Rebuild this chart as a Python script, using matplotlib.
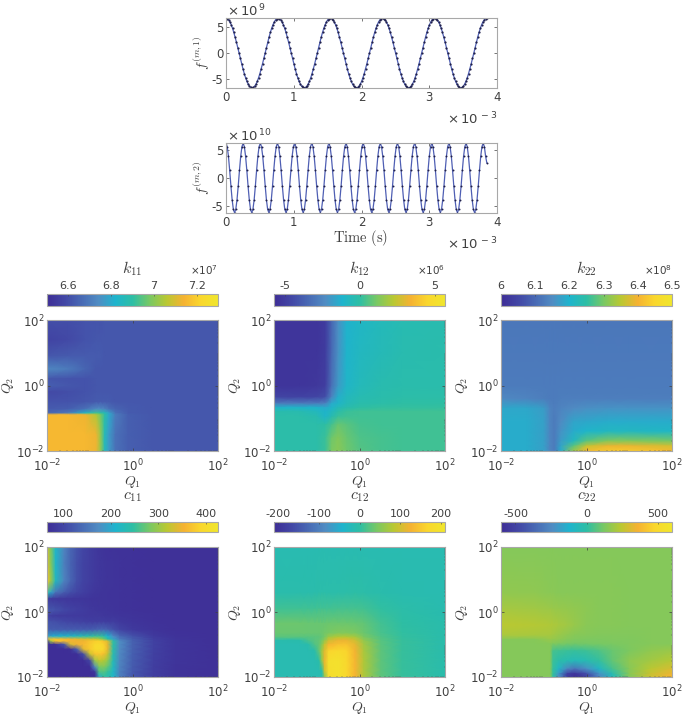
import numpy as np
import matplotlib
matplotlib.use('Agg')
import matplotlib.pyplot as plt
from matplotlib.colors import LinearSegmentedColormap, Normalize
from matplotlib.cm import ScalarMappable

plt.rcParams['font.family'] = 'DejaVu Sans'
plt.rcParams['mathtext.fontset'] = 'dejavusans'

W, H = 685, 716
GREY = '#404040'
EDGE = '#a8a8a8'

# top traces, units 1e9 and 1e10
f1_t_end = 3.85e-3
f1 = [
    6.70, 6.62, 6.37, 5.97, 5.42, 4.74, 3.94, 3.04, 2.07, 1.05, 0.00, -1.05, -2.07, -3.04, -3.94, -4.74, -5.42, -5.97, -6.37, -6.62,
    -6.70, -6.62, -6.37, -5.97, -5.42, -4.74, -3.94, -3.04, -2.07, -1.05, 0.00, 1.05, 2.07, 3.04, 3.94, 4.74, 5.42, 5.97, 6.37, 6.62,
    6.70, 6.62, 6.37, 5.97, 5.42, 4.74, 3.94, 3.04, 2.07, 1.05, 0.00, -1.05, -2.07, -3.04, -3.94, -4.74, -5.42, -5.97, -6.37, -6.62,
    -6.70, -6.62, -6.37, -5.97, -5.42, -4.74, -3.94, -3.04, -2.07, -1.05, 0.00, 1.05, 2.07, 3.04, 3.94, 4.74, 5.42, 5.97, 6.37, 6.62,
    6.70, 6.62, 6.37, 5.97, 5.42, 4.74, 3.94, 3.04, 2.07, 1.05, 0.00, -1.05, -2.07, -3.04, -3.94, -4.74, -5.42, -5.97, -6.37, -6.62,
    -6.70, -6.62, -6.37, -5.97, -5.42, -4.74, -3.94, -3.04, -2.07, -1.05, 0.00, 1.05, 2.07, 3.04, 3.94, 4.74, 5.42, 5.97, 6.37, 6.62,
    6.70, 6.62, 6.37, 5.97, 5.42, 4.74, 3.94, 3.04, 2.07, 1.05, 0.00, -1.05, -2.07, -3.04, -3.94, -4.74, -5.42, -5.97, -6.37, -6.62,
    -6.70, -6.62, -6.37, -5.97, -5.42, -4.74, -3.94, -3.04, -2.07, -1.05, 0.00, 1.05, 2.07, 3.04, 3.94, 4.74, 5.42, 5.97, 6.37, 6.62,
    6.70, 6.62, 6.37, 5.97, 5.42, 4.74, 3.94, 3.04, 2.07, 1.05, 0.00, -1.05, -2.07, -3.04, -3.94, -4.74, -5.42, -5.97, -6.37, -6.62,
    -6.70, -6.62, -6.37, -5.97, -5.42, -4.74, -3.94, -3.04, -2.07, -1.05, 0.00, 1.05, 2.07, 3.04, 3.94, 4.74, 5.42, 5.97, 6.37, 6.62,
    6.70,
]
f2_t_end = 3.85e-3
f2 = [
    6.10, 5.50, 3.80, 1.36, -1.36, -3.80, -5.50, -6.10, -5.50, -3.80, -1.36, 1.36, 3.80, 5.50,
    6.10, 5.50, 3.80, 1.36, -1.36, -3.80, -5.50, -6.10, -5.50, -3.80, -1.36, 1.36, 3.80, 5.50,
    6.10, 5.50, 3.80, 1.36, -1.36, -3.80, -5.50, -6.10, -5.50, -3.80, -1.36, 1.36, 3.80, 5.50,
    6.10, 5.50, 3.80, 1.36, -1.36, -3.80, -5.50, -6.10, -5.50, -3.80, -1.36, 1.36, 3.80, 5.50,
    6.10, 5.50, 3.80, 1.36, -1.36, -3.80, -5.50, -6.10, -5.50, -3.80, -1.36, 1.36, 3.80, 5.50,
    6.10, 5.50, 3.80, 1.36, -1.36, -3.80, -5.50, -6.10, -5.50, -3.80, -1.36, 1.36, 3.80, 5.50,
    6.10, 5.50, 3.80, 1.36, -1.36, -3.80, -5.50, -6.10, -5.50, -3.80, -1.36, 1.36, 3.80, 5.50,
    6.10, 5.50, 3.80, 1.36, -1.36, -3.80, -5.50, -6.10, -5.50, -3.80, -1.36, 1.36, 3.80, 5.50,
    6.10, 5.50, 3.80, 1.36, -1.36, -3.80, -5.50, -6.10, -5.50, -3.80, -1.36, 1.36, 3.80, 5.50,
    6.10, 5.50, 3.80, 1.36, -1.36, -3.80, -5.50, -6.10, -5.50, -3.80, -1.36, 1.36, 3.80, 5.50,
    6.10, 5.50, 3.80, 1.36, -1.36, -3.80, -5.50, -6.10, -5.50, -3.80, -1.36, 1.36, 3.80, 5.50,
    6.10, 5.50, 3.80, 1.36, -1.36, -3.80, -5.50, -6.10, -5.50, -3.80, -1.36, 1.36, 3.80, 5.50,
    6.10, 5.50, 3.80, 1.36, -1.36, -3.80, -5.50, -6.10, -5.50, -3.80, -1.36, 1.36, 3.80, 5.50,
    6.10, 5.50, 3.80, 1.36, -1.36, -3.80, -5.50, -6.10, -5.50, -3.80, -1.36, 1.36, 3.80, 5.50,
    6.10, 5.50, 3.80, 1.36, -1.36, -3.80, -5.50, -6.10, -5.50, -3.80, -1.36, 1.36, 3.80, 5.50,
    6.10, 5.50, 3.80, 2.65,
]

# heat maps: exponents of Q1 (columns) and Q2 (rows, top of the plot first)
k11_q1 = [-2, -1.5, -1.1, -0.85, -0.75, -0.65, -0.55, -0.4, -0.1, 0.5, 2]
k11_q2 = [2, 1.4, 0.9, 0.5, 0.2, 0, -0.2, -0.5, -0.72, -0.84, -0.9, -1.5, -2]
k11 = [
    [6.60, 6.60, 6.61, 6.61, 6.61, 6.62, 6.62, 6.62, 6.62, 6.62, 6.62],
    [6.57, 6.59, 6.61, 6.62, 6.62, 6.62, 6.62, 6.62, 6.62, 6.62, 6.62],
    [6.62, 6.63, 6.63, 6.63, 6.63, 6.62, 6.62, 6.62, 6.62, 6.62, 6.62],
    [6.73, 6.70, 6.65, 6.62, 6.62, 6.62, 6.62, 6.62, 6.62, 6.62, 6.62],
    [6.62, 6.61, 6.61, 6.62, 6.62, 6.62, 6.62, 6.62, 6.62, 6.62, 6.62],
    [6.64, 6.62, 6.61, 6.62, 6.62, 6.62, 6.62, 6.62, 6.62, 6.62, 6.62],
    [6.59, 6.60, 6.61, 6.62, 6.62, 6.62, 6.62, 6.62, 6.62, 6.62, 6.62],
    [6.61, 6.61, 6.62, 6.63, 6.63, 6.63, 6.63, 6.62, 6.62, 6.62, 6.62],
    [6.63, 6.64, 6.68, 6.74, 6.74, 6.72, 6.68, 6.65, 6.63, 6.62, 6.62],
    [6.65, 6.70, 6.84, 6.92, 6.90, 6.86, 6.78, 6.68, 6.63, 6.62, 6.62],
    [7.15, 7.15, 7.13, 7.05, 6.98, 6.90, 6.80, 6.70, 6.64, 6.62, 6.62],
    [7.15, 7.15, 7.15, 7.13, 7.02, 6.86, 6.77, 6.68, 6.64, 6.62, 6.62],
    [7.15, 7.15, 7.15, 7.13, 7.02, 6.86, 6.77, 6.68, 6.64, 6.62, 6.62],
]

k12_q1 = [-2, -1.4, -1.0, -0.8, -0.65, -0.5, -0.3, 0, 0.5, 1, 2]
k12_q2 = [2, 1, 0, -0.35, -0.55, -0.68, -0.8, -0.95, -1.2, -1.6, -2]
k12 = [
    [-5.3, -5.3, -5.3, -5.0, -3.5, -2.2, -1.2, -0.9, -0.6, -0.4, -0.3],
    [-5.3, -5.3, -5.3, -5.0, -3.4, -2.1, -1.1, -0.8, -0.5, -0.3, -0.2],
    [-5.3, -5.3, -5.2, -4.9, -3.2, -1.9, -1.0, -0.6, -0.3, -0.2, -0.2],
    [-4.6, -4.7, -4.6, -4.3, -2.5, -1.3, -0.7, -0.4, -0.2, -0.1, -0.1],
    [-2.8, -2.8, -2.8, -2.6, -1.4, -1.0, -0.5, -0.2, -0.1, 0.0, 0.0],
    [-1.0, -1.0, -1.1, -1.4, -1.0, -0.5, -0.2, 0.0, 0.1, 0.1, 0.1],
    [-0.2, -0.3, -0.7, -1.1, -0.7, -0.1, 0.2, 0.3, 0.3, 0.3, 0.3],
    [-0.1, -0.1, -0.3, -1.0, -0.3, 0.2, 0.3, 0.3, 0.3, 0.3, 0.3],
    [-0.1, -0.1, -0.1, 0.0, 0.4, 0.9, 0.7, 0.4, 0.3, 0.3, 0.3],
    [-0.1, -0.1, -0.1, 0.2, 1.0, 1.3, 0.9, 0.5, 0.4, 0.3, 0.3],
    [-0.1, -0.1, -0.1, 0.2, 1.2, 1.4, 1.0, 0.6, 0.4, 0.3, 0.3],
]

k22_q1 = [-2, -1.4, -1.0, -0.85, -0.75, -0.6, -0.3, 0, 0.5, 1, 2]
k22_q2 = [2, 0, -0.4, -0.7, -1.1, -1.4, -1.7, -1.85, -2]
k22 = [
    [6.12, 6.12, 6.12, 6.12, 6.12, 6.12, 6.12, 6.12, 6.12, 6.12, 6.12],
    [6.125, 6.125, 6.125, 6.125, 6.125, 6.125, 6.125, 6.125, 6.125, 6.125, 6.125],
    [6.145, 6.14, 6.13, 6.125, 6.125, 6.13, 6.13, 6.13, 6.13, 6.13, 6.13],
    [6.185, 6.185, 6.17, 6.14, 6.13, 6.14, 6.15, 6.155, 6.16, 6.16, 6.16],
    [6.19, 6.19, 6.175, 6.14, 6.125, 6.15, 6.18, 6.185, 6.19, 6.19, 6.19],
    [6.19, 6.19, 6.175, 6.14, 6.125, 6.16, 6.19, 6.205, 6.215, 6.215, 6.21],
    [6.19, 6.19, 6.175, 6.14, 6.125, 6.17, 6.22, 6.28, 6.31, 6.31, 6.30],
    [6.19, 6.19, 6.175, 6.14, 6.125, 6.18, 6.28, 6.36, 6.39, 6.39, 6.37],
    [6.19, 6.19, 6.175, 6.14, 6.125, 6.19, 6.33, 6.41, 6.43, 6.43, 6.41],
]

c11_q1 = [-2, -1.92, -1.8, -1.6, -1.45, -1.3, -1.15, -1.0, -0.88, -0.78, -0.68, -0.58, -0.45, -0.3, 0, 0.5, 1, 2]
c11_q2 = [2, 1.5, 0.95, 0.6, 0.4, 0.06, -0.12, -0.3, -0.55, -0.75, -0.84, -0.9, -1.0, -1.15, -1.3, -1.5, -1.7, -1.85, -2]
c11 = [
    [335, 290, 217, 166, 135, 116, 100, 91, 85, 80, 76, 75, 74, 74, 74, 73, 73, 72],
    [340, 295, 215, 160, 132, 112, 98, 90, 85, 81, 79, 77, 76, 75, 74, 73, 73, 72],
    [365, 310, 225, 165, 135, 112, 98, 90, 85, 81, 79, 77, 76, 75, 74, 73, 73, 72],
    [250, 200, 150, 125, 110, 100, 92, 85, 81, 79, 77, 76, 75, 75, 74, 73, 73, 72],
    [85, 84, 84, 82, 81, 80, 79, 78, 77, 76, 76, 76, 75, 75, 74, 73, 73, 72],
    [125, 122, 115, 105, 98, 92, 88, 84, 81, 79, 78, 78, 76, 75, 74, 73, 73, 72],
    [90, 90, 88, 86, 86, 85, 85, 84, 84, 83, 81, 80, 80, 78, 76, 74, 73, 72],
    [115, 115, 112, 105, 100, 98, 95, 92, 90, 90, 90, 88, 90, 84, 78, 74, 73, 72],
    [125, 125, 125, 125, 125, 125, 125, 125, 130, 135, 135, 130, 115, 100, 85, 76, 73, 72],
    [185, 200, 205, 215, 220, 225, 235, 240, 250, 250, 240, 210, 175, 140, 115, 85, 75, 72],
    [330, 370, 370, 360, 350, 340, 335, 330, 325, 310, 280, 240, 195, 155, 125, 92, 78, 72],
    [72, 300, 372, 365, 355, 350, 350, 370, 380, 385, 370, 335, 245, 175, 130, 95, 78, 72],
    [70, 70, 72, 120, 335, 350, 360, 375, 390, 395, 385, 345, 245, 175, 130, 95, 78, 72],
    [68, 68, 68, 68, 72, 130, 340, 375, 395, 400, 390, 345, 240, 172, 130, 95, 78, 72],
    [68, 68, 68, 68, 68, 70, 110, 325, 370, 375, 365, 325, 235, 170, 128, 94, 78, 72],
    [68, 68, 68, 68, 68, 68, 68, 100, 300, 320, 315, 295, 230, 168, 126, 92, 78, 72],
    [68, 68, 68, 68, 68, 68, 68, 68, 170, 280, 285, 270, 222, 165, 124, 91, 77, 72],
    [68, 68, 68, 68, 68, 68, 68, 68, 80, 260, 265, 250, 218, 162, 122, 90, 76, 72],
    [68, 68, 68, 68, 68, 68, 68, 68, 68, 200, 245, 240, 215, 160, 120, 90, 76, 72],
]

c12_q1 = [-2, -1.4, -1.2, -1.05, -0.95, -0.88, -0.82, -0.72, -0.5, -0.3, -0.1, 0.1, 0.5, 1, 2]
c12_q2 = [2, 0.6, 0.1, -0.35, -0.65, -0.78, -0.88, -1.0, -1.2, -1.5, -1.8, -2]
c12 = [
    [-12, -12, -12, -12, -12, -12, -12, -12, -12, -12, -12, -12, -12, -13, -13],
    [-8, -8, -7, -7, -6, -6, -6, -6, -5, -4, -3, -4, -8, -10, -12],
    [10, 10, 11, 11, 12, 12, 13, 13, 14, 14, 14, 12, 2, -4, -10],
    [35, 35, 34, 34, 34, 34, 34, 36, 36, 36, 34, 30, 12, 0, -8],
    [34, 34, 34, 34, 34, 36, 38, 42, 48, 48, 45, 35, 16, 2, -8],
    [24, 24, 24, 25, 28, 32, 40, 70, 85, 85, 75, 45, 20, 4, -8],
    [-10, -8, 15, 25, 30, 40, 60, 100, 120, 120, 100, 60, 24, 5, -8],
    [-13, -13, -8, 20, 30, 50, 90, 130, 145, 145, 115, 70, 26, 5, -8],
    [-13, -13, -13, -8, 30, 70, 110, 165, 175, 165, 125, 75, 28, 5, -8],
    [-13, -13, -13, -13, -5, 60, 120, 190, 195, 170, 130, 78, 28, 6, -8],
    [-13, -13, -13, -13, -13, -8, 100, 188, 195, 170, 129, 77, 28, 6, -8],
    [-13, -13, -13, -13, -13, -13, 50, 185, 195, 170, 128, 76, 28, 6, -8],
]

c22_q1 = [-2, -1.2, -0.85, -0.78, -0.65, -0.45, -0.27, 0, 0.3, 0.6, 1, 1.5, 2]
c22_q2 = [2, 0.6, 0.1, -0.4, -0.72, -0.85, -0.98, -1.2, -1.5, -1.75, -1.9, -2]
c22 = [
    [145, 145, 145, 145, 145, 145, 145, 145, 145, 145, 145, 145, 145],
    [165, 160, 155, 155, 150, 150, 150, 150, 148, 146, 145, 145, 145],
    [205, 195, 185, 180, 175, 170, 165, 158, 150, 146, 145, 145, 145],
    [240, 235, 225, 220, 210, 195, 175, 155, 148, 146, 145, 145, 145],
    [215, 210, 205, 195, 180, 160, 150, 145, 140, 140, 140, 142, 145],
    [145, 150, 175, 170, 160, 145, 135, 130, 130, 132, 136, 142, 145],
    [145, 145, 150, 135, 125, 115, 110, 115, 120, 125, 135, 142, 145],
    [145, 145, 145, 40, 30, 20, 15, 25, 55, 95, 130, 165, 185],
    [145, 145, 145, 20, -10, -40, -60, -40, 10, 85, 160, 200, 235],
    [145, 145, 145, 10, -90, -260, -320, -230, -90, 40, 150, 240, 300],
    [145, 145, 145, 5, -200, -500, -560, -450, -220, -40, 150, 270, 345],
    [145, 145, 145, 0, -240, -540, -585, -500, -260, -60, 140, 280, 370],
]

panel_names = ['k_{11}', 'k_{12}', 'k_{22}', 'c_{11}', 'c_{12}', 'c_{22}']
panel_data = [(k11_q1, k11_q2, k11), (k12_q1, k12_q2, k12), (k22_q1, k22_q2, k22),
              (c11_q1, c11_q2, c11), (c12_q1, c12_q2, c12), (c22_q1, c22_q2, c22)]
panel_lims = [(6.5, 7.3), (-5.7, 5.7), (6.0, 6.5), (66, 425), (-211, 211), (-602, 602)]
panel_ticks = [[6.6, 6.8, 7, 7.2], [-5, 0, 5], [6, 6.1, 6.2, 6.3, 6.4, 6.5],
               [100, 200, 300, 400], [-200, -100, 0, 100, 200], [-500, 0, 500]]
panel_ticklabels = [['6.6', '6.8', '7', '7.2'], ['-5', '0', '5'], ['6', '6.1', '6.2', '6.3', '6.4', '6.5'],
                    ['100', '200', '300', '400'], ['-200', '-100', '0', '100', '200'], ['-500', '0', '500']]
panel_exp = ['7', '6', '8', None, None, None]

# muted parula look
cmap_colors = [(62, 45, 150), (66, 70, 165), (72, 105, 180), (80, 140, 195), (30, 180, 205),
               (45, 190, 165), (120, 200, 100), (185, 200, 50), (245, 178, 50), (250, 215, 45), (240, 230, 45)]
cmap = LinearSegmentedColormap.from_list('muted', [tuple(c / 255 for c in rgb) for rgb in cmap_colors], N=256)


def ax_px(fig, x0, y0, x1, y1):
    return fig.add_axes([x0 / W, 1 - y1 / H, (x1 - x0) / W, (y1 - y0) / H])


def txt(fig, x, y, s, **kw):
    kw.setdefault('color', GREY)
    kw.setdefault('ha', 'center')
    kw.setdefault('va', 'center')
    return fig.text(x / W, 1 - y / H, s, **kw)


def style(ax, size=8.5):
    for s in ax.spines.values():
        s.set_color(EDGE)
        s.set_linewidth(0.8)
    ax.tick_params(which='both', direction='in', colors=GREY, width=0.5, top=True, right=True, labelsize=size, pad=2)
    ax.tick_params(which='major', length=2)


fig = plt.figure(figsize=(W / 100, H / 100), dpi=100)

# time traces
t1 = np.linspace(0, f1_t_end, len(f1))
t2 = np.linspace(0, f2_t_end, len(f2))
for y0, y1, t, f, ylim, yexp, lab, ms in [(18, 88, t1, f1, 6.72, '9', '$f^{(m,1)}$', 1.6),
                                          (143, 213, t2, f2, 6.15, '10', '$f^{(m,2)}$', 1.4)]:
    ax = ax_px(fig, 226, y0, 497, y1)
    ax.plot(t, f, color='#4f5fb4', lw=0.9)
    ax.plot(t, f, ls='none', marker='o', ms=ms, mew=0, color='#20204a')
    ax.set_xlim(0, 4e-3)
    ax.set_ylim(-ylim, ylim)
    ax.set_xticks([0, 1e-3, 2e-3, 3e-3, 4e-3], ['0', '1', '2', '3', '4'])
    ax.set_yticks([-5, 0, 5], ['-5', '0', '5'])
    style(ax, 8.5)
    txt(fig, 227, y0 - 7, r'$\times\,10^{\,' + yexp + '}$', fontsize=9.5, ha='left')
    txt(fig, 497, y1 + 31, r'$\times\,10^{\,-3}$', fontsize=9.5, ha='right')
    txt(fig, 202, (y0 + y1) / 2, lab, fontsize=10, rotation=90, math_fontfamily='cm')
txt(fig, 361, 238, r'$\mathrm{Time\ (s)}$', fontsize=10.5, math_fontfamily='cm')

# heat maps with colour bars on top
col_x = [(47, 218), (274, 445), (501, 672)]
row_y = [(320, 451, 294, 306, 269, 270), (547, 677, 522, 532, 497, None)]

for i in range(6):
    q1, q2, z = panel_data[i]
    x0, x1 = col_x[i % 3]
    y0, y1, by0, by1, lab_y, exp_y = row_y[i // 3]
    norm = Normalize(*panel_lims[i])

    ax = ax_px(fig, x0, y0, x1, y1)
    ax.pcolormesh(10.0 ** np.array(q1), 10.0 ** np.array(q2), np.array(z, dtype=float),
                  shading='gouraud', cmap=cmap, norm=norm, rasterized=True)
    ax.set_xscale('log')
    ax.set_yscale('log')
    ax.set_xlim(1e-2, 1e2)
    ax.set_ylim(1e-2, 1e2)
    ax.set_xticks([1e-2, 1, 1e2], ['$10^{-2}$', '$10^{0}$', '$10^{2}$'])
    ax.set_yticks([1e-2, 1, 1e2], ['$10^{-2}$', '$10^{0}$', '$10^{2}$'])
    style(ax, 8.5)
    ax.tick_params(which='minor', length=0.8, width=0.3)
    ax.tick_params(axis='x', pad=5)

    txt(fig, (x0 + x1) / 2, y1 + 31, '$Q_1$', fontsize=10, math_fontfamily='cm')
    txt(fig, x0 - 39, (y0 + y1) / 2, '$Q_2$', fontsize=10, rotation=90, math_fontfamily='cm')

    cax = ax_px(fig, x0, by0, x1, by1)
    cb = fig.colorbar(ScalarMappable(norm=norm, cmap=cmap), cax=cax, orientation='horizontal')
    cb.set_ticks(panel_ticks[i], labels=panel_ticklabels[i])
    cax.xaxis.set_ticks_position('top')
    cax.tick_params(direction='in', length=1.5, width=0.4, colors=GREY, labelsize=8, pad=2.5)
    cb.outline.set_edgecolor(EDGE)
    cb.outline.set_linewidth(0.8)

    txt(fig, (x0 + x1) / 2, lab_y, '$' + panel_names[i] + '$', fontsize=11.5, math_fontfamily='cm')
    if panel_exp[i] is not None:
        txt(fig, x1, exp_y, r'$\times 10^{' + panel_exp[i] + '}$', fontsize=7.5, ha='right')

fig.savefig('out.png', dpi=100)
